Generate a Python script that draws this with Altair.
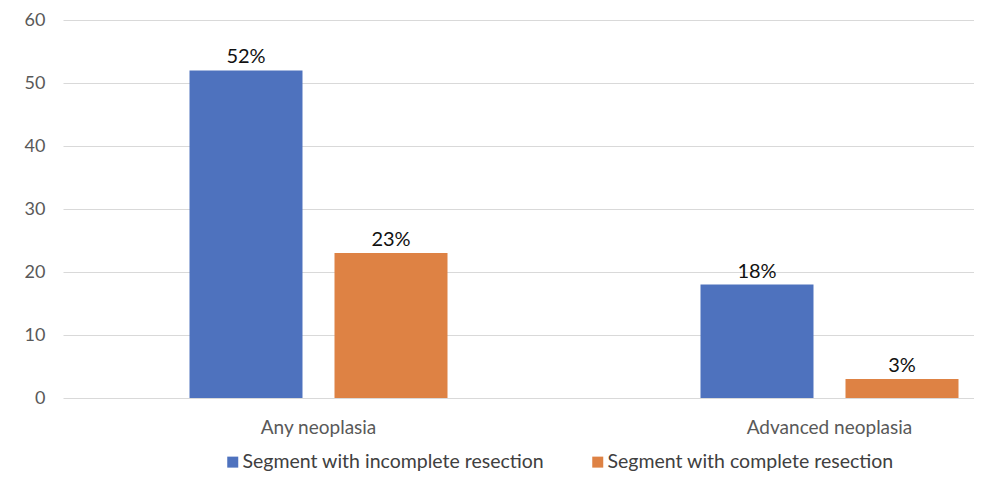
import altair as alt
import pandas as pd

categories = ["Any neoplasia", "Any neoplasia", "Advanced neoplasia", "Advanced neoplasia"]
series = ["Segment with incomplete resection", "Segment with complete resection",
          "Segment with incomplete resection", "Segment with complete resection"]
values = [52, 23, 18, 3]

cat_order = ["Any neoplasia", "Advanced neoplasia"]
series_order = ["Segment with incomplete resection", "Segment with complete resection"]
colors = ["#4E72BE", "#DE8244"]

df = pd.DataFrame({"category": categories, "series": series, "value": values})

FONT = "Lato"

base = alt.Chart(df).encode(
    x=alt.X("category:N", sort=cat_order, title=None,
            scale=alt.Scale(range=[0, 1022], paddingInner=0, paddingOuter=0),
            axis=alt.Axis(labelAngle=0, ticks=False, domain=False, labelPadding=20,
                          labelFontSize=19, labelColor="#595959", labelFont=FONT)),
    xOffset=alt.XOffset("series:N", sort=series_order,
                        scale=alt.Scale(paddingInner=0.2207, paddingOuter=0.8724)),
)

bars = base.mark_bar().encode(
    y=alt.Y("value:Q", title=None,
            scale=alt.Scale(domain=[0, 60]),
            axis=alt.Axis(values=[0, 10, 20, 30, 40, 50, 60], ticks=False, domain=False,
                          labelPadding=18, labelFontSize=18, labelColor="#595959",
                          labelFont=FONT, gridColor="#D9D9D9", gridWidth=1)),
    color=alt.Color("series:N", sort=series_order,
                    scale=alt.Scale(domain=series_order, range=colors),
                    legend=alt.Legend(title=None, orient="none", direction="horizontal",
                                      legendX=160, legendY=432, symbolType="square",
                                      symbolSize=121, symbolStrokeWidth=0,
                                      labelFontSize=19.5, labelColor="#404040",
                                      labelFont=FONT, labelOffset=0, columnPadding=43,
                                      labelLimit=400)),
)

labels = base.transform_calculate(label="datum.value + '%'").mark_text(
    baseline="alphabetic", dy=-7, fontSize=20, font=FONT, color="#111111"
).encode(
    y=alt.Y("value:Q"),
    text="label:N",
)

chart = alt.layer(bars, labels).properties(
    width=911, height=378,
    autosize=alt.AutoSizeParams(type="none"),
    padding={"left": 55, "top": 12, "right": 0, "bottom": 75},
).configure_view(stroke=None)

chart.save("out.html", embed_options={"renderer": "svg", "actions": False})
